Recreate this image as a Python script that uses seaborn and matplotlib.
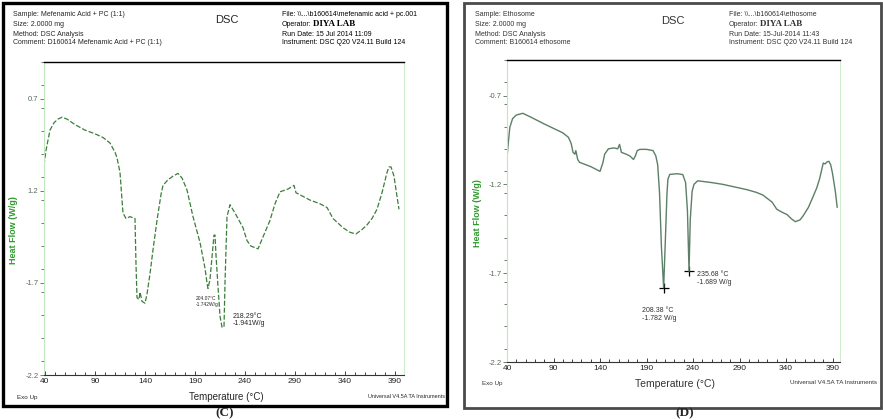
import pandas as pd
import seaborn as sns
import matplotlib.pyplot as plt
from matplotlib.patches import Rectangle
from matplotlib.ticker import MultipleLocator

# --- values ---
temp_c = [39, 41, 45, 49, 53, 57, 62, 70, 80, 90, 98, 105, 110, 112, 115, 117, 118, 121, 125, 130,
          131, 132, 134, 135, 137, 140, 142, 145, 148, 152, 156, 158, 163, 168, 173, 177, 182, 188,
          195, 200, 202, 203, 205, 207, 209, 210, 211, 213, 215, 217, 219, 220, 222, 225, 230, 238,
          242, 246, 253, 258, 265, 270, 275, 283, 289, 291, 298, 305, 315, 322, 328, 338, 345, 351,
          357, 362, 367, 372, 377, 382, 384, 386, 389, 392, 394]
heat_c = [-1.06, -0.98, -0.87, -0.83, -0.81, -0.80, -0.81, -0.84, -0.87, -0.89, -0.91, -0.94, -0.99,
          -1.02, -1.10, -1.25, -1.32, -1.35, -1.34, -1.35, -1.60, -1.78, -1.79, -1.75, -1.80, -1.81,
          -1.76, -1.65, -1.52, -1.36, -1.22, -1.17, -1.14, -1.12, -1.105, -1.13, -1.195, -1.34, -1.48,
          -1.62, -1.70, -1.73, -1.68, -1.56, -1.44, -1.44, -1.55, -1.72, -1.88, -1.94, -1.94, -1.70,
          -1.34, -1.275, -1.32, -1.40, -1.47, -1.50, -1.515, -1.45, -1.36, -1.27, -1.205, -1.19, -1.17,
          -1.21, -1.23, -1.25, -1.27, -1.29, -1.35, -1.40, -1.425, -1.434, -1.41, -1.385, -1.35, -1.30,
          -1.21, -1.10, -1.07, -1.07, -1.12, -1.23, -1.30]

temp_d = [40, 41, 43, 46, 50, 57, 65, 80, 100, 106, 109, 111, 113, 114, 116, 118, 130, 140, 143, 145,
          149, 155, 159, 161, 163, 168, 172, 176, 178, 180, 183, 190, 197, 200, 202, 204, 206, 208.4,
          210, 212, 213, 215, 223, 229, 232, 234, 235.7, 237, 239, 241, 245, 260, 272, 285, 298, 308,
          315, 320, 325, 330, 335, 341, 346, 350, 355, 358, 364, 369, 373, 376, 380, 382, 384, 386,
          388, 390, 393, 395]
heat_d = [-1.05, -0.99, -0.88, -0.83, -0.81, -0.80, -0.82, -0.86, -0.91, -0.935, -0.97, -1.02, -1.03,
          -1.01, -1.06, -1.076, -1.10, -1.127, -1.08, -1.03, -1.00, -0.995, -1.00, -0.975, -1.02, -1.03,
          -1.04, -1.06, -1.04, -1.01, -1.003, -1.003, -1.01, -1.04, -1.09, -1.25, -1.55, -1.782, -1.55,
          -1.25, -1.17, -1.144, -1.14, -1.145, -1.19, -1.35, -1.689, -1.40, -1.24, -1.20, -1.18, -1.19,
          -1.20, -1.215, -1.23, -1.245, -1.26, -1.28, -1.30, -1.34, -1.355, -1.37, -1.395, -1.41, -1.40,
          -1.38, -1.33, -1.27, -1.22, -1.17, -1.08, -1.085, -1.074, -1.07, -1.09, -1.14, -1.24, -1.33]

peak_t_c = [204.07, 218.29]
peak_v_c = [-1.742, -1.941]
peak_t_d = [208.38, 235.68]
peak_v_d = [-1.782, -1.689]

x_ticks = [40, 90, 140, 190, 240, 290, 340, 390]
y_ticks = [-0.7, -1.2, -1.7, -2.2]
y_labels_c = ['0.7', '1.2', '-1.7', '-2.2']
y_labels_d = ['-0.7', '-1.2', '-1.7', '-2.2']

header_c = ['Sample: Mefenamic Acid + PC (1:1)', 'Size: 2.0000 mg', 'Method: DSC Analysis',
            'Comment: D160614 Mefenamic Acid + PC (1:1)']
header_d = ['Sample: Ethosome', 'Size: 2.0000 mg', 'Method: DSC Analysis', 'Comment: B160614 ethosome']
info_c = ['File: \\\\...\\b160614\\mefenamic acid + pc.001', 'Run Date: 15 Jul 2014 11:09',
          'Instrument: DSC Q20 V24.11 Build 124']
info_d = ['File: \\\\...\\b160614\\ethosome', 'Run Date: 15-Jul-2014 11:43',
          'Instrument: DSC Q20 V24.11 Build 124']

sns.set_style('white')
plt.rcParams['font.family'] = ['Liberation Sans', 'DejaVu Sans']

W, H = 883, 420


def fx(x):
    return x / W


def fy(y):
    return 1 - y / H


fig = plt.figure(figsize=(8.83, 4.2), dpi=100)

# outer frames of the two instrument printouts
fig.patches.append(Rectangle((fx(3), fy(406)), fx(447) - fx(3), fy(3) - fy(406),
                             transform=fig.transFigure, fill=False, lw=2.4, ec='black'))
fig.patches.append(Rectangle((fx(464), fy(408)), fx(881) - fx(464), fy(3) - fy(408),
                             transform=fig.transFigure, fill=False, lw=2.0, ec='#4a4a4a'))


def draw_panel(ax, temps, heats, xlim, ylabels, line_kw):
    df = pd.DataFrame({'T': temps, 'HF': heats})
    sns.lineplot(data=df, x='T', y='HF', ax=ax, sort=False, estimator=None, **line_kw)
    ax.set_xlim(*xlim)
    ax.set_ylim(-2.2, -0.5)
    ax.set_xticks(x_ticks)
    ax.set_xticklabels([str(t) for t in x_ticks])
    ax.set_yticks(y_ticks)
    ax.set_yticklabels(ylabels)
    ax.yaxis.set_minor_locator(MultipleLocator(0.125))
    ax.xaxis.set_minor_locator(MultipleLocator(10))
    ax.tick_params(axis='x', which='both', direction='in', length=3, width=0.6, pad=2,
                   labelsize=6, colors='#222222', bottom=True)
    ax.tick_params(axis='x', which='minor', length=2)
    ax.tick_params(axis='y', which='both', direction='out', length=3, width=0.6, pad=1,
                   labelsize=5.5, colors='#556b55', left=True)
    ax.tick_params(axis='y', which='minor', length=2)
    ax.set_xlabel('')
    ax.set_ylabel('')
    ax.spines['top'].set_color('black')
    ax.spines['top'].set_linewidth(1.0)
    ax.spines['bottom'].set_color('#333333')
    ax.spines['bottom'].set_linewidth(0.8)
    ax.spines['left'].set_color('#bfe8bf')
    ax.spines['right'].set_color('#cdeecd')
    ax.set_facecolor('white')


# --- panel C ---
ax_c = fig.add_axes([fx(44), fy(375), fx(404) - fx(44), fy(62) - fy(375)])
draw_panel(ax_c, temp_c, heat_c, (39, 399), y_labels_c,
           dict(color='#3b7d3b', lw=0.9, linestyle=(0, (4, 1.6))))
ax_c.text(191, -1.80, f'{peak_t_c[0]:.2f}°C\n{peak_v_c[0]:.3f}W/g', fontsize=3.5,
          va='center', ha='left', linespacing=1.1)
ax_c.text(228, -1.90, f'{peak_t_c[1]:.2f}°C\n{peak_v_c[1]:.3f}W/g', fontsize=5,
          va='center', ha='left', linespacing=1.1)

# --- panel D ---
ax_d = fig.add_axes([fx(507), fy(362), fx(840) - fx(507), fy(60) - fy(362)])
draw_panel(ax_d, temp_d, heat_d, (40, 398), y_labels_d,
           dict(color='#5c7f66', lw=1.0))
sns.scatterplot(x=peak_t_d, y=peak_v_d, ax=ax_d, marker='+', s=45, color='black', linewidth=0.9)
ax_d.text(244, -1.73, f'{peak_t_d[1]:.2f} °C\n{peak_v_d[1]:.3f} W/g', fontsize=5,
          va='center', ha='left', linespacing=1.2, color='#333333')
ax_d.text(185, -1.93, f'{peak_t_d[0]:.2f} °C\n{peak_v_d[0]:.3f} W/g', fontsize=5,
          va='center', ha='left', linespacing=1.2, color='#333333')

# --- header blocks ---
rows = [15, 24, 34, 43]
for y, line in zip(rows, header_c):
    fig.text(fx(13), fy(y), line, fontsize=5, va='center', ha='left')
for y, line in zip(rows, header_d):
    fig.text(fx(475), fy(y), line, fontsize=5, va='center', ha='left', color='#333333')

for x0, info, col in [(282, info_c, 'black'), (729, info_d, '#333333')]:
    fig.text(fx(x0), fy(rows[0]), info[0], fontsize=5, va='center', ha='left', color=col)
    fig.text(fx(x0), fy(rows[1]), 'Operator:', fontsize=5, va='center', ha='left', color=col)
    # operator name sits right after the label, in a bold serif face
    fig.text(fx(x0 + 31), fy(rows[1]), 'DIYA LAB', fontsize=6.5, va='center', ha='left',
             family='Liberation Serif', weight='bold', color=col)
    fig.text(fx(x0), fy(rows[2]), info[1], fontsize=5, va='center', ha='left', color=col)
    fig.text(fx(x0), fy(rows[3]), info[2], fontsize=5, va='center', ha='left', color=col)

fig.text(fx(227), fy(20), 'DSC', fontsize=8, ha='center', va='center')
fig.text(fx(673), fy(21), 'DSC', fontsize=8, ha='center', va='center', color='#333333')

# --- axis titles and footers ---
fig.text(fx(14), fy(230), 'Heat Flow (W/g)', rotation=90, fontsize=6.5, color='#2f9a2f',
         ha='center', va='center', weight='bold')
fig.text(fx(478), fy(213), 'Heat Flow (W/g)', rotation=90, fontsize=6.5, color='#2f9a2f',
         ha='center', va='center', weight='bold')
fig.text(fx(226), fy(397), 'Temperature (°C)', fontsize=7, ha='center', va='center')
fig.text(fx(675), fy(384), 'Temperature (°C)', fontsize=7.5, ha='center', va='center',
         color='#333333')
fig.text(fx(17), fy(397), 'Exo Up', fontsize=4.5, ha='left', va='center')
fig.text(fx(482), fy(383), 'Exo Up', fontsize=4.5, ha='left', va='center', color='#333333')
fig.text(fx(445), fy(397), 'Universal V4.5A TA Instruments', fontsize=4, ha='right', va='center')
fig.text(fx(877), fy(382), 'Universal V4.5A TA Instruments', fontsize=4.5, ha='right',
         va='center', color='#333333')

# panel letters under each frame
fig.text(fx(225), fy(419.5), '(C)', fontsize=9.5, family='Liberation Serif', weight='bold',
         ha='center', va='bottom')
fig.text(fx(685), fy(419.5), '(D)', fontsize=9.5, family='Liberation Serif', weight='bold',
         ha='center', va='bottom')

fig.savefig('out.png', dpi=100)
